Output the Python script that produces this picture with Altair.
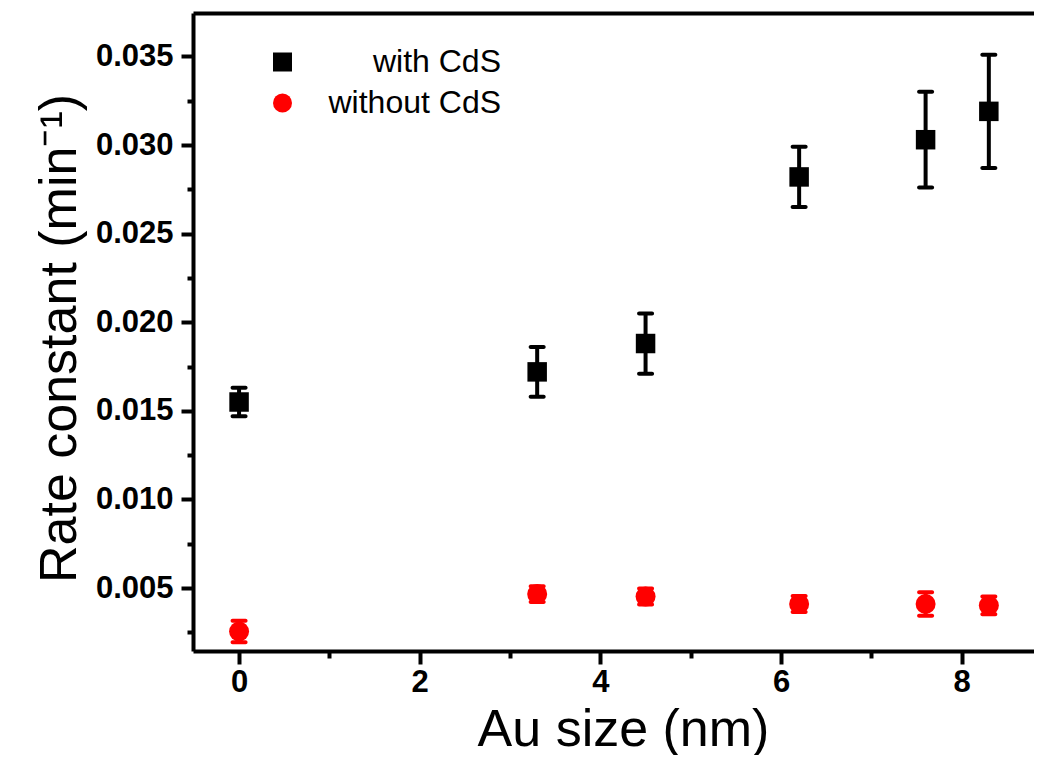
import altair as alt
import pandas as pd

# ---- data ----
au_size = [0, 3.3, 4.5, 6.2, 7.6, 8.3]
with_cds = [0.0155, 0.0172, 0.0188, 0.0282, 0.0303, 0.0319]
with_err = [0.0008, 0.0014, 0.0017, 0.0017, 0.0027, 0.0032]
without_cds = [0.00255, 0.00466, 0.00452, 0.0041, 0.0041, 0.00402]
without_err = [0.0006, 0.00045, 0.00045, 0.00045, 0.00066, 0.0005]
# a zero-width space plus no-break spaces right-align the shorter legend label
series_names = ["\u200b" + "\u00a0" * 5 + "with CdS", "without CdS"]
x_major = [0, 2, 4, 6, 8]
x_minor = [1, 3, 5, 7]
y_major = [0.005, 0.010, 0.015, 0.020, 0.025, 0.030, 0.035]
y_minor = [0.0025, 0.0075, 0.0125, 0.0175, 0.0225, 0.0275, 0.0325]

x_domain = [-0.51, 8.8]
y_domain = [0.00145, 0.03745]

def frame(vals, errs, name):
    return pd.DataFrame({
        "x": au_size,
        "y": vals,
        "lo": [v - e for v, e in zip(vals, errs)],
        "hi": [v + e for v, e in zip(vals, errs)],
        "series": name,
    })

df_w = frame(with_cds, with_err, series_names[0])
df_wo = frame(without_cds, without_err, series_names[1])

FONT = "Liberation Sans"

xs = alt.Scale(domain=x_domain, nice=False, zero=False)
ys = alt.Scale(domain=y_domain, nice=False, zero=False)

x_main_axis = alt.Axis(
    orient="bottom", values=x_major, format="d", title="Au size (nm)",
    tickSize=13, labelPadding=3,
    titleFontSize=52, titleFont=FONT, titleFontWeight="normal",
    titleX=430, titleY=94, titleBaseline="alphabetic", titleAlign="center",
)
y_main_axis = alt.Axis(
    orient="left", values=y_major, format=".3f", title="Rate constant (min⁻¹)",
    tickSize=12, labelPadding=8,
    titleFontSize=52, titleFont=FONT, titleFontWeight="normal",
    titleAngle=270, titleX=-118, titleY=325, titleBaseline="alphabetic",
    titleAlign="center",
)

def stems(df, color, with_axes=False):
    return alt.Chart(df).mark_rule(color=color, strokeWidth=4).encode(
        x=alt.X("x:Q", scale=xs, axis=x_main_axis if with_axes else None),
        y=alt.Y("lo:Q", scale=ys, axis=y_main_axis if with_axes else None),
        y2="hi:Q",
    )

def caps(df, color, field):
    return alt.Chart(df).mark_tick(
        color=color, orient="horizontal", size=17, thickness=4, cornerRadius=2, opacity=1
    ).encode(
        x=alt.X("x:Q", scale=xs, axis=None),
        y=alt.Y(f"{field}:Q", scale=ys, axis=None),
    )

color_scale = alt.Scale(domain=series_names, range=["#000000", "#ff0000"])
shape_scale = alt.Scale(domain=series_names, range=["square", "circle"])
legend = alt.Legend(
    title=None, orient="none", legendX=73.5, legendY=33,
    symbolSize=361, symbolStrokeWidth=0, symbolOpacity=1,
    labelFont=FONT, labelFontSize=32, labelOffset=30, labelLimit=400,
    rowPadding=9, padding=0,
)

def points(df, size):
    return alt.Chart(df).mark_point(filled=True, opacity=1, size=size).encode(
        x=alt.X("x:Q", scale=xs, axis=None),
        y=alt.Y("y:Q", scale=ys, axis=None),
        color=alt.Color("series:N", scale=color_scale, legend=legend),
        shape=alt.Shape("series:N", scale=shape_scale, legend=legend),
    )

# minor ticks (extra axes without labels)
minor_df = pd.DataFrame({"x": x_minor + [None] * (len(y_minor) - len(x_minor)),
                         "y": y_minor})
minor = alt.Chart(minor_df).mark_point(opacity=0).encode(
    x=alt.X("x:Q", scale=xs, axis=alt.Axis(orient="bottom", values=x_minor, labels=False,
                                           domain=False, tickSize=7, title=None)),
    y=alt.Y("y:Q", scale=ys, axis=alt.Axis(orient="left", values=y_minor, labels=False,
                                           domain=False, tickSize=6, title=None)),
)

# top frame line
top = alt.Chart(df_w).mark_point(opacity=0).encode(
    x=alt.X("x:Q", scale=xs, axis=alt.Axis(orient="top", labels=False, ticks=False,
                                           title=None, domainWidth=4)),
    y=alt.Y("y:Q", scale=ys, axis=None),
)

chart = alt.layer(
    stems(df_w, "#000000", with_axes=True),
    caps(df_w, "#000000", "lo"),
    caps(df_w, "#000000", "hi"),
    stems(df_wo, "#ff0000"),
    caps(df_wo, "#ff0000", "lo"),
    caps(df_wo, "#ff0000", "hi"),
    points(df_w, 380),
    points(df_wo, 400),
    minor,
    top,
).resolve_axis(x="independent", y="independent").properties(
    width=841, height=638,
    autosize=alt.AutoSizeParams(type="none"),
    padding={"left": 185, "top": 5, "right": 0, "bottom": 104},
).configure_view(stroke=None).configure_axis(
    domainColor="black", domainWidth=4, tickColor="black", tickWidth=4,
    labelFont=FONT, labelFontWeight="bold", labelFontSize=31, labelColor="black",
    titleColor="black", grid=False,
)

chart.save("out.html", embed_options={"renderer": "svg", "actions": False})
